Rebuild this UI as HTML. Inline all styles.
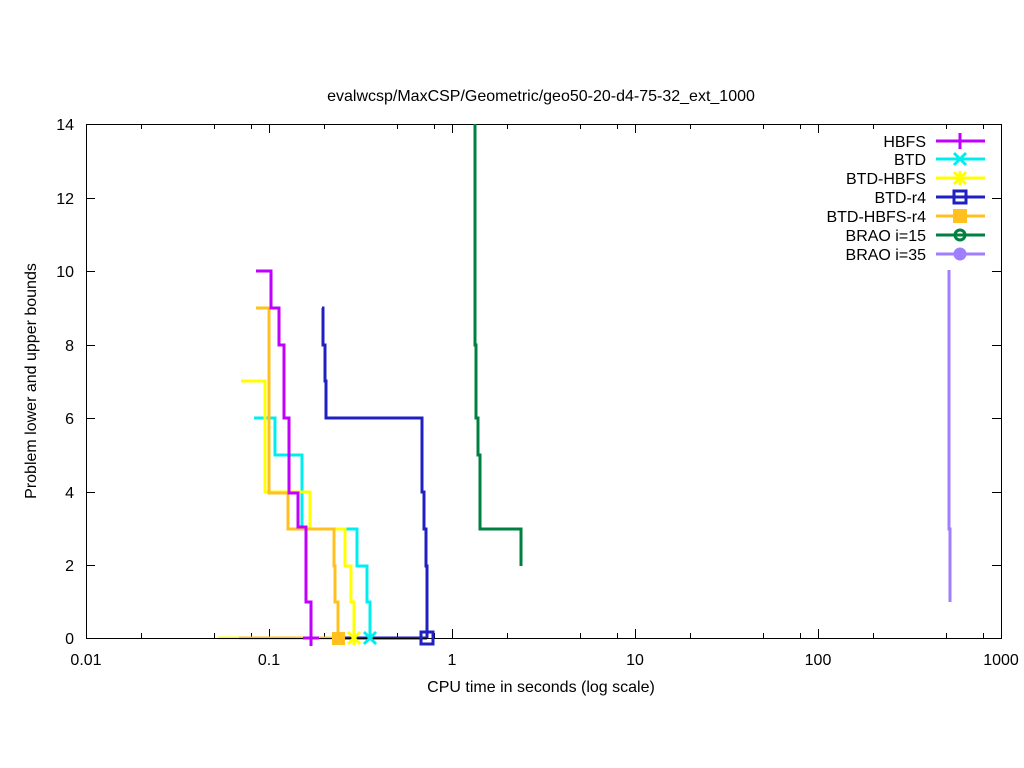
<!DOCTYPE html>
<html><head><meta charset="utf-8"><style>body{margin:0;background:#fff}svg{display:block}</style></head><body>
<svg width="1024" height="768" xmlns="http://www.w3.org/2000/svg" font-family="Liberation Sans, sans-serif" font-size="16">
<rect width="1024" height="768" fill="#fff"/>
<text x="541" y="101" text-anchor="middle">evalwcsp/MaxCSP/Geometric/geo50-20-d4-75-32_ext_1000</text>
<g stroke="#000" stroke-width="1" fill="none">
<rect x="86.5" y="124.5" width="915" height="514"/>
<path d="M86,565.5h9M86,492.5h9M86,418.5h9M86,345.5h9M86,271.5h9M86,198.5h9M1001,565.5h-9M1001,492.5h-9M1001,418.5h-9M1001,345.5h-9M1001,271.5h-9M1001,198.5h-9"/>
<path d="M269.5,638v-9M452.5,638v-9M635.5,638v-9M818.5,638v-9M269.5,124v9M452.5,124v9M635.5,124v9M818.5,124v9"/>
<path d="M141.5,638v-5M214.5,638v-5M251.5,638v-5M324.5,638v-5M397.5,638v-5M434.5,638v-5M507.5,638v-5M580.5,638v-5M617.5,638v-5M690.5,638v-5M763.5,638v-5M800.5,638v-5M873.5,638v-5M946.5,638v-5M983.5,638v-5
M141.5,124v5M214.5,124v5M251.5,124v5M324.5,124v5M397.5,124v5M434.5,124v5M507.5,124v5M580.5,124v5M617.5,124v5M690.5,124v5M763.5,124v5M800.5,124v5M873.5,124v5M946.5,124v5M983.5,124v5"/>
</g>
<g text-anchor="end">
<text x="74" y="644">0</text><text x="74" y="571">2</text><text x="74" y="498">4</text><text x="74" y="424">6</text>
<text x="74" y="351">8</text><text x="74" y="277">10</text><text x="74" y="204">12</text><text x="74" y="130">14</text>
</g>
<g text-anchor="middle">
<text x="86" y="665">0.01</text><text x="269" y="665">0.1</text><text x="452" y="665">1</text>
<text x="635" y="665">10</text><text x="818" y="665">100</text><text x="1001" y="665">1000</text>
<text x="541" y="692">CPU time in seconds (log scale)</text>
</g>
<text transform="translate(36,381) rotate(-90)" text-anchor="middle">Problem lower and upper bounds</text>
<g fill="none" stroke-width="3">
<path stroke="#ffff00" d="M218,638H240"/>
<path stroke="#ffc020" d="M239,638H338"/>
<path stroke="#c000ff" d="M305,638H318"/>
<path stroke="#2020c0" d="M345,638H427"/>
<path stroke="#9f7fff" d="M949,270V529H950V602"/>
<path stroke="#008040" d="M475,124V345H476V418H478V455H480V529H521V566"/>
<path stroke="#2020c0" d="M322,308H323V345H325V381H326V418H422V492H424V529H426V566H427V638"/>
<path stroke="#00eeee" d="M254,418H275V455H302V529H357V566H367V602H370V638"/>
<path stroke="#ffff00" d="M241,381H265V492H310V529H345V566H351V602H354V638"/>
<path stroke="#ffc020" d="M256,308H269V493H288V529H334V566H335V602H338V638"/>
<path stroke="#c000ff" d="M256,271H271V308H279V345H284V418H289V493H298V527H306V602H311V638"/>
</g>
<line x1="86" y1="638.5" x2="1001" y2="638.5" stroke="#000"/>
<g stroke-width="3" fill="none">
<path stroke="#c000ff" d="M311,630V646M303,638H319"/>
<path stroke="#00eeee" d="M364,632L376,644M364,644L376,632"/>
<path stroke="#ffff00" d="M348,632L360,644M348,644L360,632M354,631V645"/>
<rect x="421" y="632" width="12" height="12" stroke="#2020c0"/>
<rect x="332" y="632" width="13" height="13" fill="#ffc020" stroke="none"/>
</g>
<g text-anchor="end">
<text x="926" y="147">HBFS</text><text x="926" y="165">BTD</text><text x="926" y="184">BTD-HBFS</text>
<text x="926" y="203">BTD-r4</text><text x="926" y="222">BTD-HBFS-r4</text><text x="926" y="241">BRAO i=15</text><text x="926" y="260">BRAO i=35</text>
</g>
<g stroke-width="3" fill="none">
<path stroke="#c000ff" d="M936,141H985M960,133V149"/>
<path stroke="#00eeee" d="M936,159H985M954,153L966,165M954,165L966,153"/>
<path stroke="#ffff00" d="M936,178H985M954,172L966,184M954,184L966,172M960,171V185"/>
<path stroke="#2020c0" d="M936,197H985"/><rect x="954" y="191" width="12" height="12" stroke="#2020c0"/>
<path stroke="#ffc020" d="M936,216H985"/><rect x="953" y="209" width="14" height="14" fill="#ffc020" stroke="none"/>
<path stroke="#008040" d="M936,235H985"/><circle cx="960" cy="235" r="5" stroke="#008040"/>
<path stroke="#9f7fff" d="M936,254H985"/><circle cx="960" cy="254" r="6.5" fill="#9f7fff" stroke="none"/>
</g>
</svg>
</body></html>
